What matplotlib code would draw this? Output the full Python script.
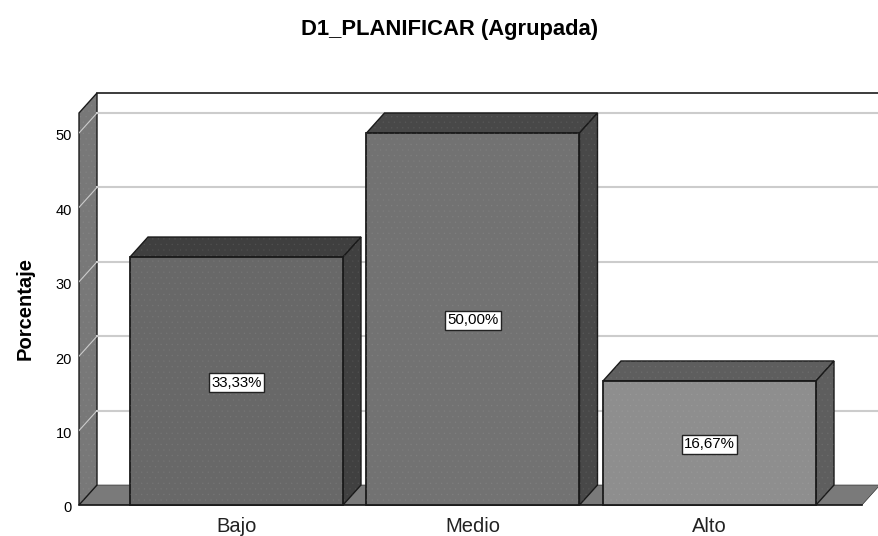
import matplotlib
matplotlib.use("Agg")
import matplotlib.pyplot as plt
from matplotlib.patches import Polygon
from matplotlib.transforms import ScaledTranslation

plt.rcParams["font.family"] = ["Liberation Sans", "DejaVu Sans"]
plt.rcParams["hatch.linewidth"] = 0.3

categories = ["Bajo", "Medio", "Alto"]
values = [33.33, 50.00, 16.67]
value_labels = ["33,33%", "50,00%", "16,67%"]
yticks = [0, 10, 20, 30, 40, 50]

front_colors = ["#686868", "#727272", "#8e8e8e"]
top_colors = ["#3f3f3f", "#484848", "#5e5e5e"]
side_colors = ["#404040", "#484848", "#5e5e5e"]
wall_color = "#787878"
floor_color = "#7a7a7a"
grid_color = "#cccccc"
edge = "#1a1a1a"

W, H = 879, 536
# depth of the fake 3D box, in data units
DX = 18 / 236.5
DY = 20 / 7.44
BAR_W = 213 / 236.5
XMIN = -157.5 / 236.5
XMAX = XMIN + 800 / 236.5
YMAX = (505 - 93) / 7.44

fig = plt.figure(figsize=(W / 100, H / 100), dpi=100, facecolor="white")
ax = fig.add_axes([79 / W, (H - 505) / H, 800 / W, 412 / H])
ax.set_xlim(XMIN, XMAX)
ax.set_ylim(0, YMAX)
for s in ax.spines.values():
    s.set_visible(False)


def poly(pts, color, z, lw=1.0, hatch=None):
    ax.add_patch(Polygon(pts, closed=True, facecolor=color, edgecolor=edge, lw=lw,
                         zorder=z, clip_on=False))
    if hatch:
        ax.add_patch(Polygon(pts, closed=True, facecolor="none", edgecolor="#ffffff10",
                             lw=0, zorder=z + 0.1, clip_on=False, hatch=hatch))


# floor and left wall
floor_right = XMIN + 783 / 236.5
poly([(XMIN, 0), (floor_right, 0), (floor_right + DX, DY), (XMIN + DX, DY)], floor_color, 1, lw=0.4)
ax.plot([XMIN, floor_right], [0, 0], color=edge, lw=1.2, zorder=1.5, clip_on=False)
poly([(XMIN, 0), (XMIN + DX, DY), (XMIN + DX, YMAX), (XMIN, YMAX - DY)], wall_color, 2, hatch="...")

# back wall top border and gridlines
ax.plot([XMIN + DX, XMAX], [YMAX, YMAX], color=edge, lw=1.2, zorder=2, clip_on=False)
for t in yticks[1:]:
    ax.plot([XMIN + DX, XMAX], [t + DY, t + DY], color=grid_color, lw=1.5, zorder=2)
    ax.plot([XMIN, XMIN + DX], [t, t + DY], color=grid_color, lw=0.8, zorder=3)

# bars
for i, v in enumerate(values):
    l, r = i - BAR_W / 2, i + BAR_W / 2
    poly([(l, v), (r, v), (r + DX, v + DY), (l + DX, v + DY)], top_colors[i], 4 + i, hatch="...")
    poly([(r, 0), (r + DX, DY), (r + DX, v + DY), (r, v)], side_colors[i], 4 + i, hatch="...")
    poly([(l, 0), (r, 0), (r, v), (l, v)], front_colors[i], 4 + i, lw=1.3, hatch="...")
    ax.text(i, v / 2 - 0.2, value_labels[i], ha="center", va="center", fontsize=10.8, color="black", zorder=10,
            bbox=dict(boxstyle="square,pad=0.16", facecolor="white", edgecolor="#222222", lw=1))

ax.set_xticks(range(len(categories)))
ax.set_xticklabels(categories, fontsize=14.5, color="#222222")
ax.tick_params(axis="x", length=0, pad=9)
ax.set_yticks(yticks)
ax.set_yticklabels([str(t) for t in yticks], fontsize=10.5, color="black")
ax.tick_params(axis="y", length=0, pad=5)
# tick numbers sit a little below their level in the original
for lab in ax.get_yticklabels():
    lab.set_transform(lab.get_transform() + ScaledTranslation(0, -2 / 100, fig.dpi_scale_trans))

fig.text(450 / W, 1 - 29 / H, "D1_PLANIFICAR (Agrupada)", ha="center", va="center",
         fontsize=15.8, fontweight="bold")
fig.text(25 / W, 1 - 308 / H, "Porcentaje", ha="center", va="center", rotation=90,
         fontsize=14.5, fontweight="bold")

fig.savefig("out.png", dpi=100, facecolor="white")
